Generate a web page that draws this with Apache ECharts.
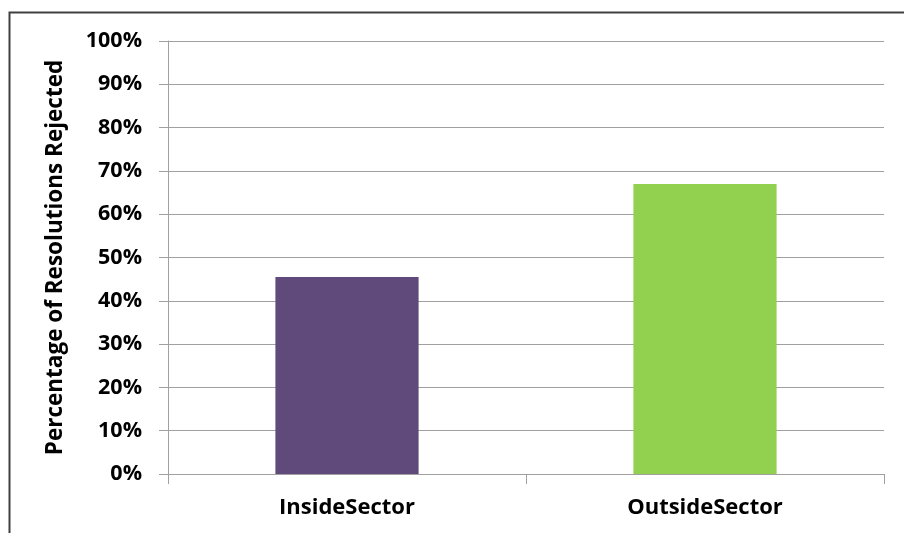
<!DOCTYPE html>
<html><head><meta charset="utf-8">
<script src="https://cdn.jsdelivr.net/npm/echarts@6/dist/echarts.min.js"></script>
<style>html,body{margin:0;padding:0;background:#fff}#c{width:904px;height:533px}</style>
</head><body><div id="c"></div>
<script>
const categories = ["InsideSector", "OutsideSector"];
const values = [45.5, 67.0];
const colors = ["#604a7b", "#92d050"];
const yTicks = [0, 10, 20, 30, 40, 50, 60, 70, 80, 90, 100];
const yAxisTitle = "Percentage of Resolutions Rejected";

const chart = echarts.init(document.getElementById('c'), null, {renderer: 'canvas'});
const font = "'Open Sans', 'Noto Sans', sans-serif";
chart.setOption({
  animation: false,
  backgroundColor: '#fff',
  graphic: [{
    type: 'rect', shape: {x: 9.5, y: 12.5, width: 1000, height: 1000},
    style: {fill: 'none', stroke: '#404040', lineWidth: 2}, silent: true, z: -1
  }],
  grid: {left: 168, top: 41, right: 20, bottom: 59, containLabel: false},
  xAxis: {
    type: 'category', data: categories,
    axisLine: {show: true, lineStyle: {color: '#a0a0a0', width: 1}},
    axisTick: {show: true, length: 10, alignWithLabel: false, lineStyle: {color: '#a0a0a0'}},
    axisLabel: {color: '#000', fontFamily: font, fontWeight: 'bold', fontSize: 22, margin: 23}
  },
  yAxis: {
    type: 'value', min: 0, max: 100, interval: 10,
    name: yAxisTitle, nameLocation: 'middle', nameGap: 101, nameRotate: 90,
    nameTextStyle: {color: '#000', fontFamily: font, fontWeight: 'bold', fontSize: 22.5},
    axisLine: {show: true, lineStyle: {color: '#a0a0a0', width: 1}},
    axisTick: {show: true, length: 9, lineStyle: {color: '#a0a0a0'}},
    splitLine: {show: true, lineStyle: {color: '#a0a0a0', width: 1}},
    axisLabel: {color: '#000', fontFamily: font, fontWeight: 'bold', fontSize: 21.5, margin: 26,
      formatter: v => yTicks.includes(v) ? v + '%' : ''}
  },
  series: [{
    type: 'bar', barWidth: '40%',
    data: values.map((v, i) => ({value: v, itemStyle: {color: colors[i]}}))
  }]
});
</script></body></html>
